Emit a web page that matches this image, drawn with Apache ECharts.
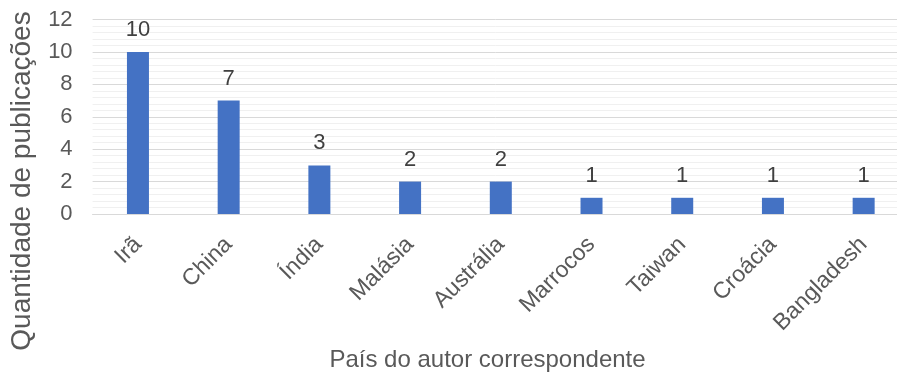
<!DOCTYPE html>
<html>
<head>
<meta charset="utf-8">
<script src="https://cdn.jsdelivr.net/npm/echarts@6/dist/echarts.min.js"></script>
<style>
html,body{margin:0;padding:0;background:#fff;}
#chart{width:897px;height:376px;}
</style>
</head>
<body>
<div id="chart"></div>
<script>
// Publications per country of the corresponding author
const countries = ['Irã', 'China', 'Índia', 'Malásia', 'Austrália', 'Marrocos', 'Taiwan', 'Croácia', 'Bangladesh'];
const publications = [10, 7, 3, 2, 2, 1, 1, 1, 1];
const yTicks = [0, 2, 4, 6, 8, 10, 12];

const FONT = '"Liberation Sans", Arial, sans-serif';
const chart = echarts.init(document.getElementById('chart'), null, { renderer: 'canvas' });

chart.setOption({
  animation: false,
  textStyle: { fontFamily: FONT },
  grid: {
    left: 92.6, right: -12, top: 19.5, bottom: 162,
    containLabel: false, outerBoundsMode: 'none'
  },
  xAxis: {
    type: 'category',
    data: countries,
    axisLine: { show: true, lineStyle: { color: '#d9d9d9', width: 1 } },
    axisTick: { show: false },
    axisLabel: {
      rotate: 45, interval: 0, margin: 27,
      color: '#595959', fontSize: 23, fontFamily: FONT
    }
  },
  yAxis: {
    type: 'value',
    min: yTicks[0],
    max: yTicks[yTicks.length - 1],
    interval: 2,
    axisLine: { show: false },
    axisTick: { show: false },
    axisLabel: { color: '#595959', fontSize: 22, fontFamily: FONT, margin: 20 },
    splitLine: { show: true, lineStyle: { color: '#d9d9d9', width: 1 } },
    minorTick: { show: false, splitNumber: 5 },
    minorSplitLine: { show: true, lineStyle: { color: '#f0f0f0', width: 1 } }
  },
  graphic: [{
    // vertical axis title
    type: 'text',
    x: 8,
    y: 181,
    rotation: Math.PI / 2,
    style: {
      text: 'Quantidade de publicações',
      fill: '#595959',
      font: '28px ' + FONT,
      align: 'center',
      verticalAlign: 'top'
    }
  }, {
    // horizontal axis title
    type: 'text',
    x: 487.5,
    y: 360,
    style: {
      text: 'País do autor correspondente',
      fill: '#595959',
      font: '24px ' + FONT,
      align: 'center',
      verticalAlign: 'middle'
    }
  }],
  series: [{
    type: 'bar',
    data: publications,
    barWidth: 22,
    itemStyle: { color: '#4472c4' },
    label: {
      show: true, position: 'top', distance: 11,
      color: '#404040', fontSize: 22, fontFamily: FONT
    }
  }]
});
</script>
</body>
</html>
